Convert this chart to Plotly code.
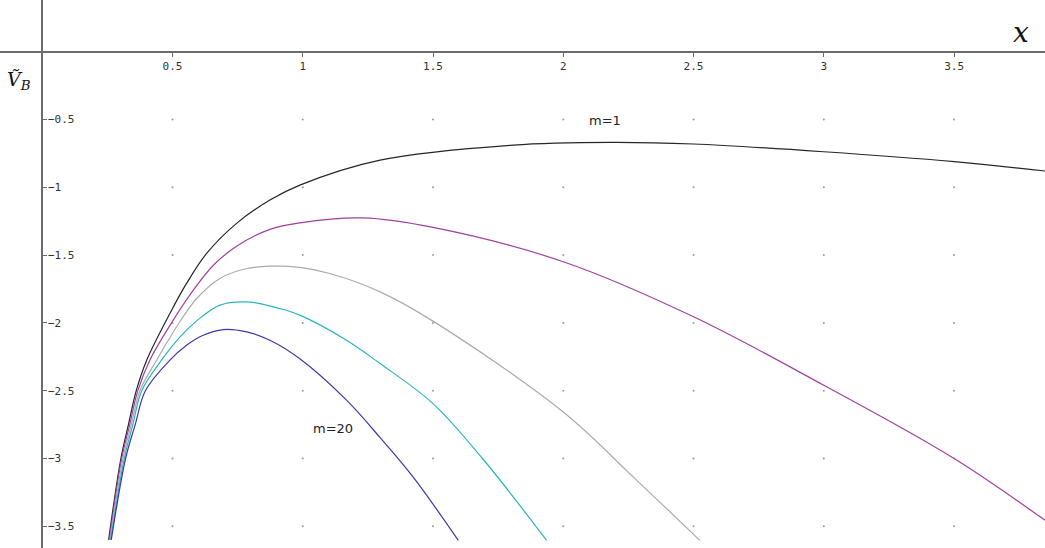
import plotly.graph_objects as go

# ---- data ----
m1_x = [0.255, 0.302, 0.331, 0.361, 0.401, 0.490, 0.554, 0.631, 0.746, 0.874, 0.989, 1.297, 1.808, 2.18, 2.5, 3.0, 3.5, 3.849]
m1_y = [-3.60, -3.00, -2.75, -2.50, -2.275, -1.931, -1.709, -1.488, -1.266, -1.094, -0.984, -0.800, -0.689, -0.669, -0.681, -0.738, -0.811, -0.880]

m2_x = [0.258, 0.305, 0.336, 0.367, 0.413, 0.503, 0.580, 0.657, 0.746, 0.874, 0.989, 1.230, 1.5, 2.0, 2.5, 3.0, 3.5, 3.849]
m2_y = [-3.60, -3.00, -2.75, -2.50, -2.275, -1.980, -1.759, -1.575, -1.435, -1.310, -1.262, -1.226, -1.296, -1.549, -1.955, -2.46, -3.00, -3.456]

m5_x = [0.260, 0.310, 0.342, 0.375, 0.439, 0.529, 0.593, 0.682, 0.785, 0.874, 0.989, 1.104, 1.297, 1.5, 2.0, 2.269, 2.524]
m5_y = [-3.60, -3.00, -2.75, -2.50, -2.275, -1.990, -1.820, -1.672, -1.599, -1.582, -1.591, -1.636, -1.771, -1.987, -2.657, -3.137, -3.604]

m10_x = [0.263, 0.315, 0.348, 0.382, 0.458, 0.529, 0.593, 0.682, 0.785, 0.912, 0.989, 1.168, 1.297, 1.5, 1.690, 1.936]
m10_y = [-3.60, -3.00, -2.75, -2.50, -2.275, -2.103, -1.985, -1.869, -1.845, -1.894, -1.943, -2.128, -2.300, -2.595, -3.000, -3.604]

m20_x = [0.265, 0.320, 0.357, 0.396, 0.490, 0.554, 0.618, 0.695, 0.785, 0.874, 0.989, 1.168, 1.297, 1.424, 1.597]
m20_y = [-3.60, -3.00, -2.75, -2.50, -2.275, -2.165, -2.091, -2.049, -2.066, -2.128, -2.265, -2.57, -2.846, -3.137, -3.604]

series_names = ["m=1", "m=2", "m=5", "m=10", "m=20"]
series_colors = ["#262626", "#a040a0", "#ababab", "#2bb5be", "#3a3aa6"]

x_ticks = [0.5, 1, 1.5, 2, 2.5, 3, 3.5]
x_tick_labels = ["0.5", "1", "1.5", "2", "2.5", "3", "3.5"]
y_ticks = [-0.5, -1, -1.5, -2, -2.5, -3, -3.5]
y_tick_labels = ["\u22120.5", "\u22121", "\u22121.5", "\u22122", "\u22122.5", "\u22123", "\u22123.5"]

x_range = [-0.162, 3.849]
y_range = [-3.66, 0.381]

fig = go.Figure()

# dotted grid (points at every tick intersection)
gx = [xv for xv in x_ticks for yv in y_ticks]
gy = [yv for xv in x_ticks for yv in y_ticks]
fig.add_trace(go.Scatter(x=gx, y=gy, mode="markers",
                         marker=dict(size=2, color="#9a9a9a"),
                         hoverinfo="skip", showlegend=False))

for name, xs, ys, col in zip(series_names,
                             [m1_x, m2_x, m5_x, m10_x, m20_x],
                             [m1_y, m2_y, m5_y, m10_y, m20_y],
                             series_colors):
    fig.add_trace(go.Scatter(x=xs, y=ys, mode="lines", name=name,
                             line=dict(color=col, width=1.2, shape="spline", smoothing=1.0),
                             showlegend=False))

y0_frac = (0 - y_range[0]) / (y_range[1] - y_range[0])
x0_frac = (0 - x_range[0]) / (x_range[1] - x_range[0])

fig.update_layout(
    width=1045, height=548, autosize=False,
    margin=dict(l=0, r=0, t=0, b=0),
    paper_bgcolor="white", plot_bgcolor="white",
    xaxis=dict(range=x_range, anchor="free", position=y0_frac,
               showline=True, linecolor="#6b6b6b", linewidth=2,
               showgrid=False, zeroline=False,
               tickvals=x_ticks, ticktext=x_tick_labels,
               ticks="outside", ticklen=4, tickcolor="#6b6b6b", tickwidth=1,
               tickfont=dict(family="DejaVu Sans Mono, DejaVu Sans", size=11, color="#333333")),
    yaxis=dict(range=y_range, anchor="free", position=x0_frac,
               showline=True, linecolor="#6b6b6b", linewidth=2,
               showgrid=False, zeroline=False,
               tickvals=y_ticks, ticktext=y_tick_labels,
               ticks="inside", ticklen=4, tickcolor="#6b6b6b", tickwidth=1,
               ticklabelposition="inside",
               tickfont=dict(family="DejaVu Sans Mono, DejaVu Sans", size=11, color="#333333")),
    annotations=[
        dict(x=2.16, y=-0.505, xref="x", yref="y", text="m=1", showarrow=False,
             font=dict(family="DejaVu Sans", size=13, color="#222222")),
        dict(x=1.117, y=-2.776, xref="x", yref="y", text="m=20", showarrow=False,
             font=dict(family="DejaVu Sans", size=13, color="#222222")),
        dict(x=3.755, y=0.14, xref="x", yref="y", text="<i>x</i>", showarrow=False,
             font=dict(family="DejaVu Serif", size=28, color="#111111")),
        dict(x=-0.09, y=-0.215, xref="x", yref="y", text="<i>V\u0303</i><sub><i>B</i></sub>",
             showarrow=False,
             font=dict(family="DejaVu Serif", size=19, color="#111111")),
    ],
)

fig.write_html("out.html", config={"displayModeBar": False},
               post_script="document.body.style.margin='0';")
